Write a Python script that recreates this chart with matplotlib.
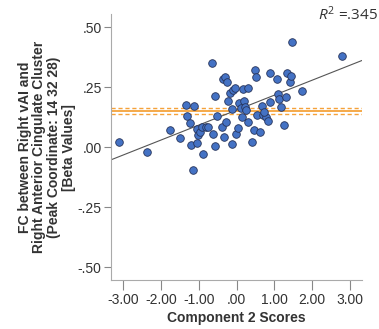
import numpy as np
import matplotlib.pyplot as plt

plt.rcParams['font.family'] = ['Liberation Sans', 'DejaVu Sans']
plt.rcParams['mathtext.fontset'] = 'custom'
plt.rcParams['mathtext.rm'] = 'Open Sans'
plt.rcParams['mathtext.it'] = 'Open Sans:italic'

# component 2 scores (x) and FC beta values (y)
comp2 = [-3.11, -2.38, -1.78, -1.50, -1.34, -1.31, -1.25, -1.22, -1.17, -1.13,
         -1.06, -1.04, -1.02, -0.97, -0.93, -0.88, -0.81, -0.75, -0.66, -0.62,
         -0.57, -0.57, -0.51, -0.40, -0.35, -0.31, -0.33, -0.29, -0.25, -0.22,
         -0.18, -0.13, -0.11, -0.12, -0.04, -0.02, 0.03, 0.07, 0.11, 0.13,
         0.16, 0.19, 0.22, 0.26, 0.29, 0.31, 0.40, 0.46, 0.49, 0.51,
         0.53, 0.62, 0.68, 0.71, 0.78, 0.84, 0.87, 0.88, 1.06, 1.10,
         1.12, 1.17, 1.26, 1.32, 1.34, 1.40, 1.43, 1.46, 1.72, 2.78, 0.72]
fc = [0.024, -0.018, 0.072, 0.038, 0.176, 0.129, 0.100, 0.010, -0.096, 0.172,
      0.019, 0.076, 0.051, 0.065, 0.083, -0.028, 0.086, 0.083, 0.350, 0.056,
      0.007, 0.215, 0.132, 0.083, 0.285, 0.292, 0.042, 0.107, 0.274, 0.193,
      0.228, 0.013, 0.239, 0.158, 0.246, 0.054, 0.081, 0.186, 0.163, 0.125,
      0.243, 0.194, 0.169, 0.156, 0.104, 0.246, 0.024, 0.072, 0.322, 0.292,
      0.135, 0.065, 0.172, 0.135, 0.128, 0.111, 0.308, 0.190, 0.285, 0.222,
      0.200, 0.169, 0.093, 0.208, 0.308, 0.274, 0.297, 0.438, 0.236, 0.381, 0.149]

mean_line = 0.151
band = 0.011
r2_text = '.345'

x = np.array(comp2)
y = np.array(fc)

fig = plt.figure(figsize=(3.79, 3.29), dpi=100)
ax = fig.add_axes([0.292, 0.149, 0.662, 0.808])

ax.axhline(mean_line, color='#F5A23A', lw=1.3, zorder=1)
ax.axhline(mean_line + band, color='#F5A23A', lw=1.0, ls=(0, (3, 2)), zorder=1)
ax.axhline(mean_line - band, color='#F5A23A', lw=1.0, ls=(0, (3, 2)), zorder=1)

xlim = (-3.34, 3.31)
b, a = np.polyfit(x, y, 1)
xx = np.array(xlim)
ax.plot(xx, a + b * xx, color='#555555', lw=0.8, zorder=2)

ax.scatter(x, y, s=30, color='#4472C4', edgecolors='#26335a', linewidths=0.6, zorder=3)

ax.set_xlim(xlim)
ax.set_ylim(-0.553, 0.555)
ax.set_xticks([-3, -2, -1, 0, 1, 2, 3])
ax.set_xticklabels(['-3.00', '-2.00', '-1.00', '.00', '1.00', '2.00', '3.00'])
ax.set_yticks([-0.5, -0.25, 0, 0.25, 0.5])
ax.set_yticklabels(['-.50', '-.25', '.00', '.25', '.50'])

for s in ['top', 'right']:
    ax.spines[s].set_visible(False)
for s in ['left', 'bottom']:
    ax.spines[s].set_color('#aaaaaa')
ax.tick_params(axis='x', colors='#888888', labelcolor='#333333', labelsize=10,
               length=7, width=0.8, direction='out', pad=2.5)
ax.tick_params(axis='y', colors='#888888', labelcolor='#333333', labelsize=10,
               length=5, width=0.8, direction='out', pad=1.5)

ax.set_xlabel('Component 2 Scores', fontsize=10, fontweight='bold', color='#333333', labelpad=3)
ax.set_ylabel('FC between Right vAI and\nRight Anterior Cingulate Cluster\n(Peak Coordinate: 14 32 28)\n[Beta Values]',
              fontsize=10, fontweight='bold', color='#333333', linespacing=1.05)
ax.yaxis.set_label_coords(-0.14, 0.5)

fig.text(0.997, 0.985, r'$R^2$ =' + r2_text, ha='right', va='top', fontsize=11,
         family='Open Sans', color='#333333')

fig.savefig('out.png', dpi=100)
